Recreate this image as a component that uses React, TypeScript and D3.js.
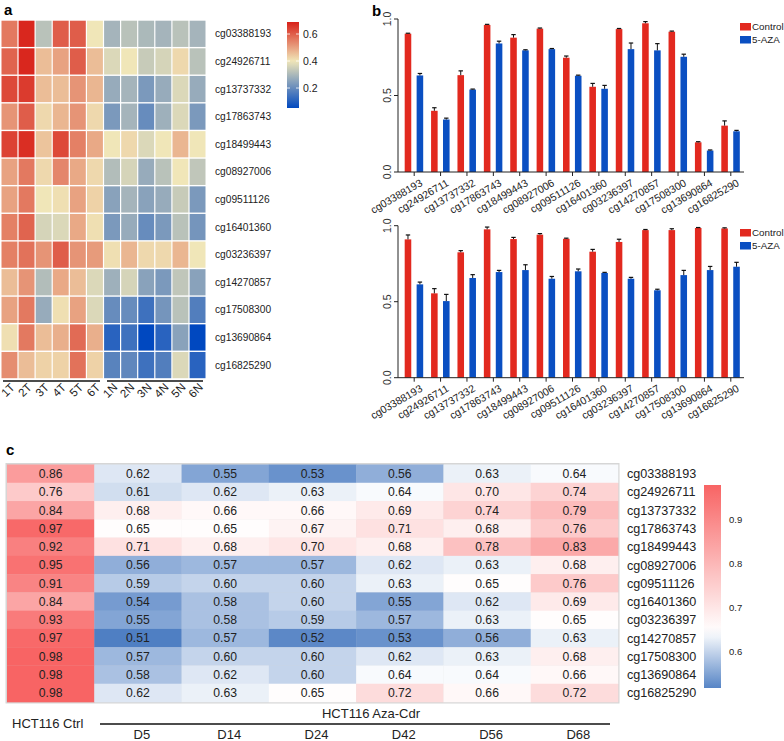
import React from 'react';
import * as d3 from 'd3';

const FONT = 'Liberation Sans, Arial, Helvetica, sans-serif';

const cpgs = ['cg03388193','cg24926711','cg13737332','cg17863743','cg18499443','cg08927006','cg09511126','cg16401360','cg03236397','cg14270857','cg17508300','cg13690864','cg16825290'];

// Panel a
const tumorCols = ['1T','2T','3T','4T','5T','6T'];
const normalCols = ['1N','2N','3N','4N','5N','6N'];
const heatmapAValues = [
  [0.56,0.68,0.32,0.60,0.60,0.40,0.29,0.32,0.30,0.29,0.32,0.29],
  [0.59,0.68,0.46,0.50,0.60,0.46,0.37,0.40,0.34,0.36,0.42,0.32],
  [0.63,0.65,0.46,0.46,0.52,0.47,0.27,0.29,0.23,0.27,0.37,0.27],
  [0.52,0.60,0.42,0.47,0.52,0.42,0.23,0.29,0.20,0.28,0.37,0.23],
  [0.64,0.67,0.45,0.63,0.55,0.49,0.40,0.42,0.37,0.40,0.47,0.40],
  [0.50,0.56,0.42,0.54,0.49,0.42,0.31,0.36,0.27,0.32,0.40,0.33],
  [0.50,0.56,0.40,0.41,0.50,0.43,0.25,0.29,0.25,0.27,0.34,0.23],
  [0.55,0.59,0.36,0.37,0.49,0.41,0.23,0.27,0.20,0.23,0.32,0.22],
  [0.55,0.57,0.52,0.60,0.52,0.51,0.41,0.47,0.42,0.42,0.47,0.40],
  [0.46,0.52,0.31,0.49,0.46,0.37,0.28,0.36,0.25,0.23,0.33,0.25],
  [0.50,0.56,0.27,0.41,0.50,0.37,0.20,0.20,0.14,0.22,0.32,0.17],
  [0.41,0.56,0.46,0.48,0.58,0.48,0.11,0.14,0.05,0.11,0.25,0.05],
  [0.53,0.46,0.43,0.43,0.57,0.43,0.18,0.19,0.14,0.17,0.37,0.11],
];
const legendATicks = [0.2, 0.4, 0.6];

// Panel b
const barSeries = ['Control', '5-AZA'];
const ctrlTop = [0.904,0.40,0.633,0.961,0.878,0.937,0.747,0.557,0.934,0.972,0.917,0.194,0.303];
const ctrlTopErr = [0.003,0.02,0.028,0.004,0.02,0.004,0.011,0.022,0.004,0.011,0.004,0.004,0.031];
const azaTop = [0.631,0.343,0.539,0.84,0.795,0.803,0.629,0.544,0.803,0.795,0.753,0.14,0.266];
const azaTopErr = [0.013,0.009,0.003,0.015,0.004,0.004,0.004,0.022,0.04,0.044,0.017,0.004,0.006];
const ctrlBot = [0.91,0.555,0.825,0.976,0.912,0.941,0.914,0.829,0.893,0.971,0.971,0.985,0.982];
const ctrlBotErr = [0.029,0.031,0.011,0.015,0.011,0.007,0.004,0.015,0.018,0.004,0.009,0.003,0.004];
const azaBot = [0.614,0.504,0.656,0.695,0.708,0.651,0.70,0.689,0.651,0.575,0.675,0.708,0.73];
const azaBotErr = [0.015,0.044,0.022,0.011,0.035,0.015,0.015,0.004,0.009,0.007,0.031,0.024,0.029];
const barTicks = [0, 0.5, 1.0];

// Panel c
const cCols = ['HCT116 Ctrl','D5','D14','D24','D42','D56','D68'];
const ctrlC = [0.86,0.76,0.84,0.97,0.92,0.95,0.91,0.84,0.93,0.97,0.98,0.98,0.98];
const d5 = [0.62,0.61,0.68,0.65,0.71,0.56,0.59,0.54,0.55,0.51,0.57,0.58,0.62];
const d14 = [0.55,0.62,0.66,0.65,0.68,0.57,0.60,0.58,0.58,0.57,0.60,0.62,0.63];
const d24 = [0.53,0.63,0.66,0.67,0.70,0.57,0.60,0.60,0.59,0.52,0.60,0.60,0.65];
const d42 = [0.56,0.64,0.69,0.71,0.68,0.62,0.63,0.55,0.57,0.53,0.62,0.64,0.72];
const d56 = [0.63,0.70,0.74,0.68,0.78,0.63,0.65,0.62,0.63,0.56,0.63,0.64,0.66];
const d68 = [0.64,0.74,0.79,0.76,0.83,0.68,0.76,0.69,0.65,0.63,0.68,0.66,0.72];
const legendCTicks = [0.6, 0.7, 0.8, 0.9];

const RED = '#E2291F';
const BLUE = '#0A4FC2';

const colorC = d3.scaleLinear<string>().domain([0.51, 0.645, 0.98]).range(['#4F7FC3', '#FFFFFF', '#F86464']).clamp(true);

function PanelA() {
  const cols = [...tumorCols, ...normalCols];
  const x = d3.scaleBand<string>().domain(cols).range([1.5, 205.5]).paddingInner(0.07);
  const y = d3.scaleBand<string>().domain(cpgs).range([20.7, 378.2]).paddingInner(0.05);
  const color = d3.scaleLinear<string>().domain([0.05, 0.40, 0.69]).range(['#0048C0', '#F0E6B8', '#D82018']).clamp(true);
  const ly = d3.scaleLinear().domain([0.052, 0.689]).range([108, 22]);
  const stops = d3.range(0, 1.0001, 0.05).map(t => 0.052 + t * (0.689 - 0.052));
  const tx = (c: string) => (x(c) as number) + x.bandwidth() / 2;
  return (
    <g>
      <text x={4} y={15} fontSize={15} fontWeight="bold" fontFamily={FONT}>a</text>
      {heatmapAValues.map((row, ri) => row.map((v, ci) => (
        <rect key={`${ri}-${ci}`} x={x(cols[ci])} y={y(cpgs[ri])} width={x.bandwidth()} height={y.bandwidth()} fill={color(v)} />
      )))}
      {cpgs.map(c => (
        <text key={c} x={215} y={(y(c) as number) + y.bandwidth() / 2} dy="0.35em" fontSize={10.2} fontFamily={FONT} fill="#222">{c}</text>
      ))}
      <line x1={3} x2={100} y1={381} y2={381} stroke="#111" strokeWidth={1.3} />
      <line x1={107} x2={203} y1={381} y2={381} stroke="#111" strokeWidth={1.3} />
      {cols.map(c => (
        <text key={c} transform={`translate(${tx(c) + 6},${388}) rotate(-45)`} textAnchor="end" fontSize={11.5} fontFamily={FONT} fill="#222">{c}</text>
      ))}
      <defs>
        <linearGradient id="gradA" x1="0" y1="1" x2="0" y2="0">
          {stops.map((v, i) => <stop key={i} offset={`${(i / (stops.length - 1)) * 100}%`} stopColor={color(v)} />)}
        </linearGradient>
        <linearGradient id="gradC" x1="0" y1="1" x2="0" y2="0">
          {d3.range(0, 1.0001, 0.05).map((t, i) => {
            const v = 0.516 + t * (0.98 - 0.516);
            return <stop key={i} offset={`${t * 100}%`} stopColor={colorC(v)} />;
          })}
        </linearGradient>
      </defs>
      <rect x={287} y={22} width={12} height={86} fill="url(#gradA)" />
      {legendATicks.map(t => (
        <g key={t}>
          <line x1={287} x2={290} y1={ly(t)} y2={ly(t)} stroke="#fff" strokeWidth={0.8} />
          <line x1={296} x2={299} y1={ly(t)} y2={ly(t)} stroke="#fff" strokeWidth={0.8} />
          <text x={303} y={ly(t)} dy="0.35em" fontSize={10.5} fontFamily={FONT} fill="#222">{t.toFixed(1)}</text>
        </g>
      ))}
    </g>
  );
}

function BarChart({ ctrl, ctrlErr, aza, azaErr, top, bottom, legendY }: any) {
  const x = d3.scaleBand<string>().domain(cpgs).range([401, 744]).padding(0);
  const inner = d3.scaleBand<string>().domain(barSeries).range([-9.5, 9]).paddingInner(0.45);
  const y = d3.scaleLinear().domain([0, 1]).range([bottom, top]);
  const cx = (c: string) => (x(c) as number) + x.bandwidth() / 2;
  const series = [
    { name: 'Control', vals: ctrl, errs: ctrlErr, color: RED },
    { name: '5-AZA', vals: aza, errs: azaErr, color: BLUE },
  ];
  return (
    <g>
      {series.map(s => cpgs.map((c, i) => {
        const bx = cx(c) + (inner(s.name) as number);
        const bw = inner.bandwidth();
        const mid = bx + bw / 2;
        return (
          <g key={s.name + c}>
            <rect x={bx} y={y(s.vals[i])} width={bw} height={y(0) - y(s.vals[i])} fill={s.color} />
            <line x1={mid} x2={mid} y1={y(s.vals[i])} y2={y(s.vals[i] + s.errs[i])} stroke="#111" strokeWidth={1} />
            <line x1={mid - 2.2} x2={mid + 2.2} y1={y(s.vals[i] + s.errs[i])} y2={y(s.vals[i] + s.errs[i])} stroke="#111" strokeWidth={1.2} />
          </g>
        );
      }))}
      <line x1={398} x2={398} y1={top} y2={bottom} stroke="#222" strokeWidth={1} />
      <line x1={398} x2={744} y1={bottom} y2={bottom} stroke="#222" strokeWidth={1} />
      {barTicks.map(t => (
        <g key={t}>
          <line x1={394} x2={398} y1={y(t)} y2={y(t)} stroke="#222" strokeWidth={1} />
          <text transform={`translate(391,${y(t)}) rotate(-90)`} textAnchor="middle" fontSize={10.5} fontFamily={FONT} fill="#333">{t.toFixed(1)}</text>
        </g>
      ))}
      {cpgs.map(c => (
        <g key={c}>
          <line x1={cx(c)} x2={cx(c)} y1={bottom} y2={bottom + 4} stroke="#222" strokeWidth={1} />
          <text transform={`translate(${cx(c) + 9},${bottom + 13}) rotate(-30)`} textAnchor="end" fontSize={10.5} fontFamily={FONT} fill="#222">{c}</text>
        </g>
      ))}
      {series.map((s, i) => (
        <g key={s.name}>
          <rect x={740} y={legendY + i * 13} width={11} height={7.5} fill={s.color} />
          <text x={752} y={legendY + i * 13 + 4} dy="0.35em" fontSize={9.8} fontFamily={FONT} fill="#222">{s.name}</text>
        </g>
      ))}
    </g>
  );
}

function PanelC() {
  const data = [ctrlC, d5, d14, d24, d42, d56, d68];
  const x = d3.scaleBand<string>().domain(cCols).range([7, 618]);
  const y = d3.scaleBand<string>().domain(cpgs).range([464.5, 702]);
  const ly = d3.scaleLinear().domain([0.516, 0.98]).range([688, 485]);
  const cx = (c: string) => (x(c) as number) + x.bandwidth() / 2;
  return (
    <g>
      <text x={6} y={455} fontSize={15} fontWeight="bold" fontFamily={FONT}>c</text>
      <rect x={5.5} y={463} width={614} height={240.5} fill="#d6d6d6" />
      {data.map((col, ci) => col.map((v, ri) => (
        <g key={`${ci}-${ri}`}>
          <rect x={x(cCols[ci])} y={y(cpgs[ri])} width={x.bandwidth() + 0.3} height={y.bandwidth() + 0.3} fill={colorC(v)} />
          <text x={cx(cCols[ci])} y={(y(cpgs[ri]) as number) + y.bandwidth() / 2} dy="0.36em" textAnchor="middle" fontSize={12.2} fontFamily={FONT} fill="#222">{v.toFixed(2)}</text>
        </g>
      )))}
      {cpgs.map(c => (
        <text key={c} x={627} y={(y(c) as number) + y.bandwidth() / 2} dy="0.36em" fontSize={12.6} fontFamily={FONT} fill="#222">{c}</text>
      ))}
      <rect x={704} y={485} width={17} height={203} fill="url(#gradC)" />
      {legendCTicks.map(t => (
        <text key={t} x={729} y={ly(t)} dy="0.35em" fontSize={9.5} fontFamily={FONT} fill="#222">{t.toFixed(1)}</text>
      ))}
      <text x={12} y={728} fontSize={13} fontFamily={FONT} fill="#222">HCT116 Ctrl</text>
      <text x={371} y={718} textAnchor="middle" fontSize={13} fontFamily={FONT} fill="#222">HCT116 Aza-Cdr</text>
      <line x1={100} x2={610} y1={724} y2={724} stroke="#111" strokeWidth={1.5} />
      {cCols.slice(1).map(c => (
        <text key={c} x={cx(c) + 4} y={739} textAnchor="middle" fontSize={13} fontFamily={FONT} fill="#222">{c}</text>
      ))}
    </g>
  );
}

export default function App() {
  return (
    <svg width={784} height={741} style={{ position: 'absolute', left: 0, top: 0, background: '#fff' }}>
      <rect x={0} y={0} width={784} height={741} fill="#fff" />
      <PanelA />
      <text x={372} y={16} fontSize={15} fontWeight="bold" fontFamily={FONT}>b</text>
      <BarChart ctrl={ctrlTop} ctrlErr={ctrlTopErr} aza={azaTop} azaErr={azaTopErr} top={19} bottom={172} legendY={23} />
      <BarChart ctrl={ctrlBot} ctrlErr={ctrlBotErr} aza={azaBot} azaErr={azaBotErr} top={225.7} bottom={377.7} legendY={229} />
      <PanelC />
    </svg>
  );
}
